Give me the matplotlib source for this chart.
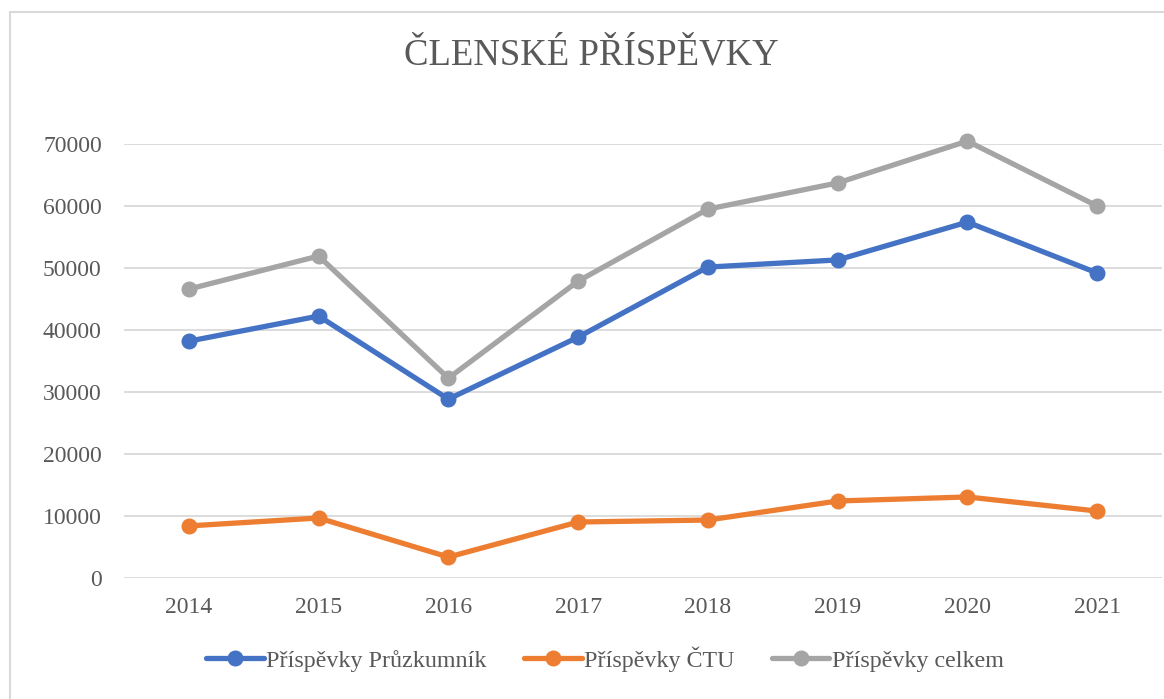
import matplotlib
matplotlib.use("Agg")
import matplotlib.pyplot as plt
from matplotlib.patches import Rectangle

years = ["2014", "2015", "2016", "2017", "2018", "2019", "2020", "2021"]
pruzkumnik = [38200, 42250, 28850, 38850, 50150, 51300, 57400, 49200]
ctu = [8400, 9680, 3380, 9030, 9350, 12420, 13070, 10800]
celkem = [46600, 51930, 32230, 47880, 59500, 63720, 70470, 60000]
series_names = ["Příspěvky Průzkumník", "Příspěvky ČTU", "Příspěvky celkem"]
colors = ["#4472C4", "#ED7D31", "#A5A5A5"]
yticks = [0, 10000, 20000, 30000, 40000, 50000, 60000, 70000]

plt.rcParams['font.family'] = ['Liberation Serif', 'DejaVu Serif']
W, H = 1164, 699
fig = plt.figure(figsize=(W/100, H/100), dpi=100)
fig.patches.append(Rectangle((10/W, -0.05), 1.2, 1 - 12/H + 0.05, transform=fig.transFigure,
                             fill=False, edgecolor="#D9D9D9", linewidth=1.5, zorder=0))

ax = fig.add_axes([124/W, 1 - 578/H, (1162 - 124)/W, (578 - 144)/H])
x = list(range(len(years)))
for vals, name, c in zip([pruzkumnik, ctu, celkem], series_names, colors):
    ax.plot(x, vals, color=c, linewidth=3.8, marker='o', markersize=10.5,
            label=name, clip_on=False, solid_capstyle='round', zorder=3)

ax.set_xlim(-0.5, len(years) - 0.5)
ax.set_ylim(0, 70000)
ax.set_yticks(yticks)
ax.set_yticklabels([str(v) for v in yticks])
ax.set_xticks(x)
ax.set_xticklabels(years)
ax.grid(axis='y', color="#D9D9D9", linewidth=1.3, zorder=0)
ax.set_axisbelow(True)
for s in ax.spines.values():
    s.set_visible(False)
ax.tick_params(axis='both', length=0, labelsize=17, labelcolor="#595959")
ax.tick_params(axis='y', pad=16)
ax.tick_params(axis='x', pad=14)

fig.text(591/W, 1 - 55/H, "ČLENSKÉ PŘÍSPĚVKY", ha='center', va='center',
         fontsize=26.5, color="#595959")

leg = fig.legend(loc='center', bbox_to_anchor=(605/W, 1 - 659/H), ncol=3, frameon=False,
                 fontsize=17.3, handlelength=2.4, columnspacing=1.55, handletextpad=0.1,
                 labelcolor="#595959")

fig.savefig("out.png", dpi=100, facecolor="white")
